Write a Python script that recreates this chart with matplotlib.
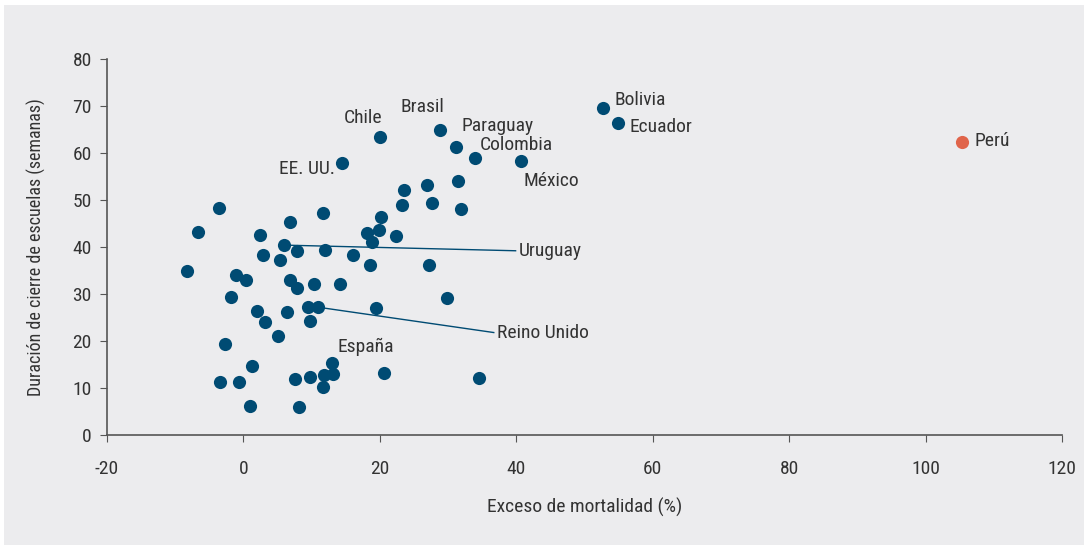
import matplotlib
matplotlib.use("Agg")
import matplotlib.pyplot as plt
from matplotlib import font_manager
from matplotlib.patches import Rectangle

# datos: exceso de mortalidad (%) y semanas de cierre de escuelas
exceso = [-8.2, -6.6, -3.6, -3.5, -2.7, -1.8, -1.1, -0.7, 0.45, 1.0,
          1.3, 1.96, 2.5, 2.9, 3.1, 5.0, 5.4, 6.0, 6.45, 6.8,
          6.9, 7.6, 7.8, 7.8, 8.2, 9.4, 9.7, 9.8, 10.3, 10.9,
          11.6, 11.7, 11.8, 11.9, 13.0, 13.2, 14.2, 14.4, 16.0, 18.1,
          18.5, 18.9, 19.5, 19.9, 20.0, 20.2, 20.6, 22.4, 23.3, 23.6,
          26.9, 27.2, 27.6, 28.8, 29.8, 31.2, 31.5, 31.9, 34.0, 34.5,
          40.7, 52.7, 54.9]
semanas = [34.9, 43.1, 48.3, 11.2, 19.3, 29.4, 34.0, 11.2, 33.0, 6.2,
           14.7, 26.3, 42.6, 38.4, 24.1, 21.1, 37.3, 40.4, 26.2, 45.4,
           33.0, 12.0, 39.2, 31.3, 6.0, 27.2, 12.3, 24.3, 32.2, 27.2,
           47.3, 10.3, 12.8, 39.3, 15.4, 12.9, 32.2, 57.8, 38.4, 43.0,
           36.1, 41.0, 27.0, 43.6, 63.4, 46.4, 13.1, 42.3, 49.0, 52.2,
           53.2, 36.2, 49.3, 65.0, 29.1, 61.3, 54.0, 48.1, 58.9, 12.2,
           58.2, 69.5, 66.4]

peru_x = [105.3]
peru_y = [62.4]

# etiquetas: (texto, x, y, alineación)
etiquetas = [
    ("Chile", 17.6, 67.4, "center"),
    ("EE. UU.", 13.4, 56.6, "right"),
    ("Brasil", 26.3, 69.7, "center"),
    ("Paraguay", 31.9, 65.8, "left"),
    ("Colombia", 34.6, 61.8, "left"),
    ("México", 41.1, 54.1, "left"),
    ("Bolivia", 54.4, 71.3, "left"),
    ("Ecuador", 56.6, 65.6, "left"),
    ("Perú", 107.2, 62.6, "left"),
    ("España", 17.9, 18.8, "center"),
]
# líneas guía: (texto, punto, extremo)
guias = [
    ("Uruguay", (6.0, 40.4), (39.9, 39.2)),
    ("Reino Unido", (10.9, 27.2), (36.7, 21.8)),
]

nombres = {f.name for f in font_manager.fontManager.ttflist}
fuente = "DejaVu Sans"
for cand in ["Liberation Sans Narrow", "DejaVu Sans Condensed", "Roboto Condensed", "Roboto"]:
    if cand in nombres:
        fuente = cand
        break
plt.rcParams["font.family"] = [fuente, "DejaVu Sans"]
plt.rcParams["axes.unicode_minus"] = False

azul = "#004b73"
naranja = "#e0644a"
gris = "#333333"
fondo = "#ececee"

fig = plt.figure(figsize=(10.87, 5.47), dpi=100, facecolor="white")
fig.patches.append(Rectangle((4 / 1087, 2 / 547), 1080 / 1087, 540 / 547,
                             transform=fig.transFigure, facecolor=fondo,
                             edgecolor="none", zorder=-10))
ax = fig.add_axes([107 / 1087, 112 / 547, 955 / 1087, 376 / 547])
ax.set_facecolor("none")

ax.scatter(exceso, semanas, s=90, color=azul, zorder=3, linewidths=0)
ax.scatter(peru_x, peru_y, s=90, color=naranja, zorder=3, linewidths=0)

for txt, x, y, ha in etiquetas:
    ax.text(x, y, txt, ha=ha, va="center", fontsize=14, color=gris)

for txt, p, q in guias:
    ax.plot([p[0], q[0]], [p[1], q[1]], color=azul, lw=1, zorder=2)
    ax.text(q[0] + 0.4, q[1], txt, ha="left", va="center", fontsize=14, color=gris)

ax.set_xlim(-20, 120)
ax.set_ylim(0, 80)
ax.set_xticks(range(-20, 121, 20))
ax.set_yticks(range(0, 81, 10))
for s in ["top", "right"]:
    ax.spines[s].set_visible(False)
for s in ["left", "bottom"]:
    ax.spines[s].set_color("#555555")
    ax.spines[s].set_linewidth(1.2)
ax.tick_params(axis="both", colors="#555555", labelcolor=gris, labelsize=14, length=5)
ax.tick_params(axis="x", pad=13)
ax.tick_params(axis="y", pad=6)

ax.set_xlabel("Exceso de mortalidad (%)", fontsize=14, color=gris)
ax.set_ylabel("Duración de cierre de escuelas (semanas)", fontsize=13, color=gris)
ax.xaxis.set_label_coords(0.5, -0.168)
ax.yaxis.set_label_coords(-0.064, 0.5)

fig.savefig("out.png", dpi=100, facecolor="white")
